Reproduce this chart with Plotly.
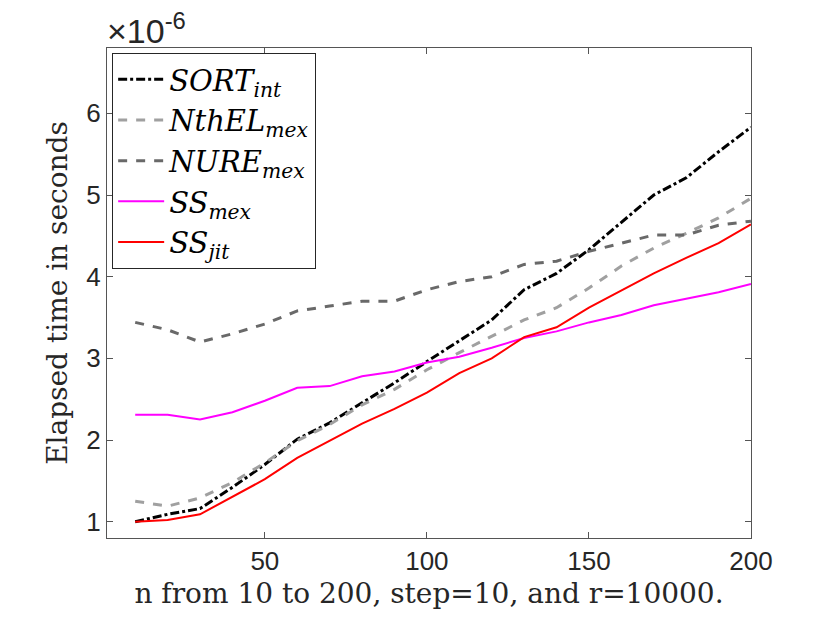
import plotly.graph_objects as go

n = [10, 20, 30, 40, 50, 60, 70, 80, 90, 100,
     110, 120, 130, 140, 150, 160, 170, 180, 190, 200]

# elapsed times, in units of 1e-6 s
sort_int = [1.00, 1.09, 1.16, 1.42, 1.70, 2.01, 2.21, 2.45, 2.70, 2.96,
            3.22, 3.47, 3.84, 4.04, 4.33, 4.66, 5.00, 5.21, 5.53, 5.83]
nthel_mex = [1.25, 1.19, 1.29, 1.48, 1.72, 1.99, 2.19, 2.43, 2.62, 2.86,
             3.07, 3.27, 3.47, 3.62, 3.86, 4.13, 4.35, 4.53, 4.72, 4.96]
nure_mex = [3.44, 3.35, 3.20, 3.30, 3.42, 3.58, 3.64, 3.70, 3.70, 3.84,
            3.94, 4.00, 4.15, 4.19, 4.31, 4.41, 4.51, 4.51, 4.63, 4.68]
ss_mex = [2.31, 2.31, 2.25, 2.34, 2.48, 2.64, 2.66, 2.78, 2.84, 2.95,
          3.02, 3.13, 3.25, 3.33, 3.44, 3.53, 3.65, 3.73, 3.81, 3.91]
ss_jit = [1.00, 1.02, 1.09, 1.30, 1.52, 1.78, 1.99, 2.20, 2.38, 2.58,
          2.82, 3.00, 3.26, 3.38, 3.62, 3.83, 4.04, 4.23, 4.41, 4.64]

series = [
    ("<i>SORT<sub>int</sub></i>", sort_int, "black", "dashdot", 3),
    ("<i>NthEL<sub>mex</sub></i>", nthel_mex, "#a0a0a0", "dash", 3),
    ("<i>NURE<sub>mex</sub></i>", nure_mex, "#696969", "dash", 3),
    ("<i>SS<sub>mex</sub></i>", ss_mex, "#ff00ff", "solid", 2),
    ("<i>SS<sub>jit</sub></i>", ss_jit, "#ff0000", "solid", 2),
]

fig = go.Figure()
for name, vals, color, dash, w in series:
    fig.add_trace(go.Scatter(x=n, y=vals, mode="lines", name=name,
                             line=dict(color=color, dash=dash, width=w)))

axis_style = dict(showline=True, linecolor="#555555", linewidth=1, mirror="ticks",
                  ticks="inside", ticklen=6, tickcolor="#555555", showgrid=False,
                  zeroline=False, tickfont=dict(family="Liberation Sans", size=26, color="#262626"))

fig.update_xaxes(range=[1.3, 200], tickvals=[50, 100, 150, 200], **axis_style,
                 title=dict(text="n from 10 to 200, step=10, and r=10000.",
                            font=dict(family="DejaVu Serif", size=28, color="#262626"),
                            standoff=8))
fig.update_yaxes(range=[0.8, 6.8], tickvals=[1, 2, 3, 4, 5, 6], **axis_style,
                 title=dict(text="Elapsed time in seconds",
                            font=dict(family="DejaVu Serif", size=28, color="#262626"),
                            standoff=10))

fig.add_annotation(text="\u00d710<sup>-6</sup>", xref="paper", yref="paper",
                   x=0, y=1, xanchor="left", yanchor="bottom", showarrow=False,
                   font=dict(family="Liberation Sans", size=34, color="#262626"),
                   xshift=-2, yshift=-4)

fig.update_layout(
    width=830, height=623,
    margin=dict(l=99, r=87, t=40, b=93),
    plot_bgcolor="white", paper_bgcolor="white",
    legend=dict(x=0.008, y=0.99, xanchor="left", yanchor="top",
                bgcolor="white", bordercolor="#262626", borderwidth=1,
                font=dict(family="DejaVu Serif", size=29, color="black"),
                tracegroupgap=0, itemwidth=46),
)

fig.write_html("out.html")
